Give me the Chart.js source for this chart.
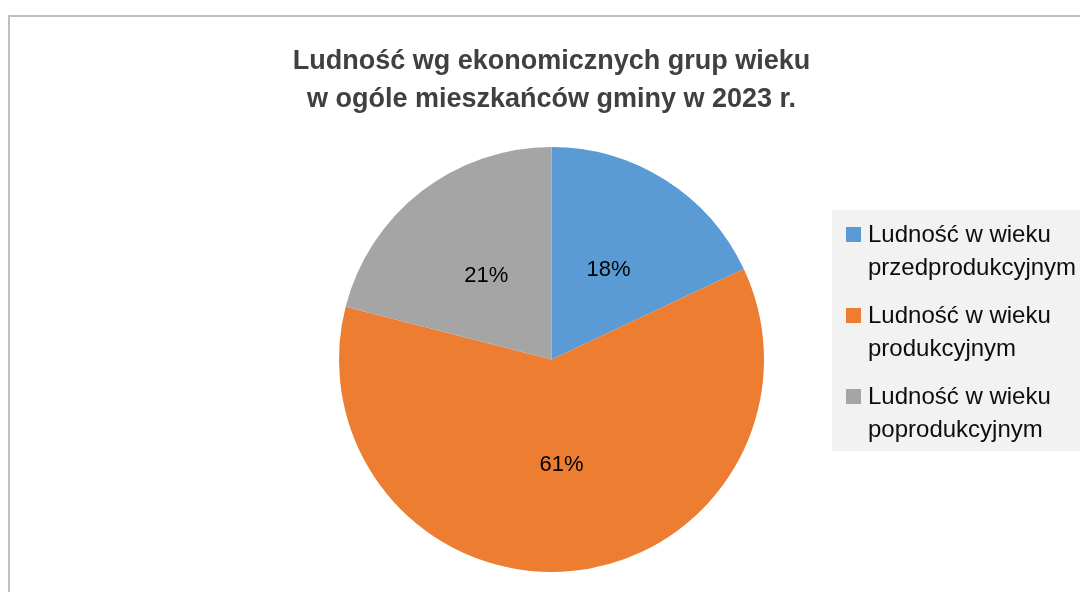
<!DOCTYPE html>
<html>
<head>
<meta charset="utf-8">
<script src="https://cdn.jsdelivr.net/npm/chart.js@4/dist/chart.umd.min.js"></script>
<style>
  html, body { margin: 0; padding: 0; background: #ffffff; }
  canvas { display: block; }
</style>
</head>
<body>
<canvas id="c" width="1080" height="592"></canvas>
<script>
// ---- data ----
const categories = [
  ['Ludność w wieku', 'przedprodukcyjnym'],
  ['Ludność w wieku', 'produkcyjnym'],
  ['Ludność w wieku', 'poprodukcyjnym']
];
const values = [18, 61, 21];
const colors = ['#5B9BD5', '#ED7D31', '#A5A5A5'];
const titleLines = ['Ludność wg ekonomicznych grup wieku', 'w ogóle mieszkańców gminy w 2023 r.'];

const FONT = '"Liberation Sans", Arial, sans-serif';

const framePlugin = {
  id: 'frame',
  beforeDraw(chart) {
    const ctx = chart.ctx;
    ctx.save();
    ctx.fillStyle = '#ffffff';
    ctx.fillRect(0, 0, chart.width, chart.height);
    ctx.strokeStyle = '#bfbfbf';
    ctx.lineWidth = 2;
    ctx.strokeRect(9, 16, chart.width + 50, chart.height + 50);
    ctx.restore();
  }
};

const labelPlugin = {
  id: 'sliceLabels',
  afterDatasetsDraw(chart) {
    const ctx = chart.ctx;
    const meta = chart.getDatasetMeta(0);
    const data = chart.data.datasets[0].data;
    const total = data.reduce((a, b) => a + b, 0);
    ctx.save();
    ctx.font = '22px ' + FONT;
    ctx.fillStyle = '#000000';
    ctx.textAlign = 'center';
    ctx.textBaseline = 'middle';
    meta.data.forEach((arc, i) => {
      const p = arc.tooltipPosition();
      ctx.fillText(Math.round(data[i] / total * 100) + '%', p.x, p.y);
    });
    ctx.restore();
  }
};

const legendPlugin = {
  id: 'sideLegend',
  afterDraw(chart) {
    const ctx = chart.ctx;
    ctx.save();
    ctx.fillStyle = '#f2f2f2';
    ctx.fillRect(832, 210, 260, 241);
    ctx.font = '24px ' + FONT;
    ctx.textAlign = 'left';
    ctx.textBaseline = 'alphabetic';
    const firstBase = 242, itemStep = 81, lineStep = 33;
    chart.data.labels.forEach((lines, i) => {
      const base = firstBase + i * itemStep;
      ctx.fillStyle = chart.data.datasets[0].backgroundColor[i];
      ctx.fillRect(846, base - 15, 15, 15);
      ctx.fillStyle = '#0d0d0d';
      lines.forEach((t, j) => ctx.fillText(t, 868, base + j * lineStep));
    });
    ctx.restore();
  }
};

new Chart(document.getElementById('c'), {
  type: 'pie',
  data: {
    labels: categories,
    datasets: [{
      data: values,
      backgroundColor: colors,
      borderWidth: 0,
      hoverOffset: 0
    }]
  },
  options: {
    responsive: false,
    animation: false,
    devicePixelRatio: 1,
    layout: { padding: { top: 0, left: 23, right: 0, bottom: 20 } },
    plugins: {
      legend: { display: false },
      tooltip: { enabled: false },
      title: {
        display: true,
        text: titleLines,
        color: '#404040',
        font: { family: FONT, size: 27, weight: 'bold', lineHeight: 1.407 },
        padding: { top: 43, bottom: 28 }
      }
    }
  },
  plugins: [framePlugin, labelPlugin, legendPlugin]
});
</script>
</body>
</html>
